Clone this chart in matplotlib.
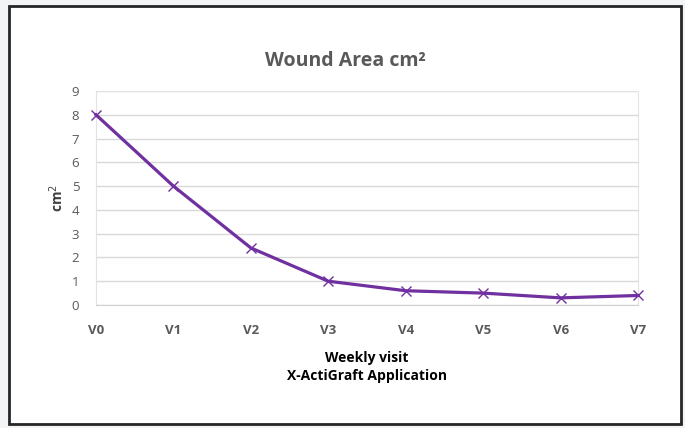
import matplotlib.pyplot as plt
from matplotlib.patches import Rectangle

visits = ["V0", "V1", "V2", "V3", "V4", "V5", "V6", "V7"]
wound_area = [8.0, 5.0, 2.4, 1.0, 0.6, 0.5, 0.3, 0.4]
y_ticks = list(range(0, 10))

plt.rcParams['font.family'] = ['Open Sans', 'DejaVu Sans']

fig = plt.figure(figsize=(6.85, 4.28), dpi=100)
fig.patch.set_facecolor('#f3f4f6')
fig.patches.append(Rectangle((9 / 685, 4 / 428), 672 / 685, 418 / 428,
                             transform=fig.transFigure, facecolor='white',
                             edgecolor='#262626', linewidth=2, zorder=-10))

ax = fig.add_axes([96 / 685, 123 / 428, 542 / 685, 214 / 428])
ax.set_facecolor('none')
x = list(range(len(visits)))
ax.plot(x, wound_area, color='#7030a0', linewidth=2.3, marker='x',
        markersize=7, markeredgewidth=1, clip_on=False, zorder=3)

ax.set_xlim(0, len(visits) - 1)
ax.set_ylim(0, 9)
ax.set_yticks(y_ticks)
ax.set_xticks(x)
ax.set_xticklabels(visits, fontweight='bold')
ax.tick_params(axis='both', length=0, colors='#595959', labelsize=9.5)
ax.tick_params(axis='y', pad=12)
ax.tick_params(axis='x', pad=14)
ax.grid(axis='y', color='#d9d9d9', linewidth=1)
for s in ax.spines.values():
    s.set_color('#e3e3e3')
ax.spines['bottom'].set_color('#d0d0d0')

ax.set_ylabel("cm$^2$", fontweight='bold', color='#404040', fontsize=10, labelpad=4)
ax.set_xlabel("Weekly visit\nX-ActiGraft Application", fontweight='bold',
              color='black', fontsize=10, labelpad=10, linespacing=1.35)
fig.text(0.505, 0.857, "Wound Area cm²", ha='center', va='center',
         fontsize=14, fontweight='bold', color='#595959')

fig.savefig("out.png", dpi=100, facecolor=fig.get_facecolor())
